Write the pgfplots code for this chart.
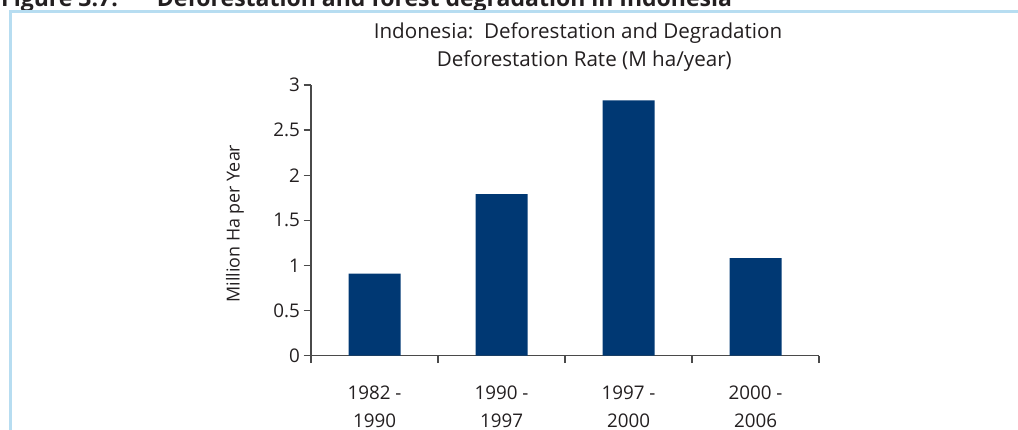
\documentclass[border=0pt]{standalone}
\usepackage{fontspec}
\setmainfont{Open Sans}
\usepackage{pgfplots}
\pgfplotsset{compat=1.18}
\definecolor{barNavy}{HTML}{003873}
\definecolor{frameBlue}{HTML}{B7DDF1}
\definecolor{txt}{HTML}{231F20}
\definecolor{axisGray}{HTML}{4A4A4A}

\begin{document}
\begin{tikzpicture}
\useasboundingbox (0pt,0pt) rectangle (1018pt,430pt);
% cropped page header and the blue box round the figure
\begin{scope}
  \clip (0pt,0pt) rectangle (1018pt,430pt);
  \node[anchor=base west, inner sep=0pt, text=txt,
        font=\fontsize{23}{28}\selectfont\bfseries] at (1pt,423pt)
        {Figure 3.7:\hspace{1.7em}Deforestation and forest degradation in Indonesia};
  \draw[frameBlue, line width=3pt] (10pt,-5pt) -- (10pt,418pt) -- (1030pt,418pt);
\end{scope}
\begin{axis}[
  at={(311pt,74.3pt)}, anchor=south west,
  scale only axis, width=508pt, height=270.7pt,
  xmin=-0.5, xmax=3.5, ymin=0, ymax=3,
  axis x line*=bottom, axis y line*=left,
  axis line style={draw=axisGray, line width=1.3pt, -},
  % labels sit on the major ticks (no length); the visible ticks are minor ones
  tick align=outside, major tick length=0pt, minor tick length=7.5pt,
  tick style={draw=axisGray, line width=1.3pt},
  xtick={0,1,2,3},
  xticklabels={{\begin{tabular}{@{}c@{}}1982 -\\[6pt]1990\end{tabular}},
               {\begin{tabular}{@{}c@{}}1990 -\\[6pt]1997\end{tabular}},
               {\begin{tabular}{@{}c@{}}1997 -\\[6pt]2000\end{tabular}},
               {\begin{tabular}{@{}c@{}}2000 -\\[6pt]2006\end{tabular}}},
  minor xtick={-0.5,0.5,1.5,2.5,3.5},
  xticklabel style={anchor=north, yshift=-28pt, inner sep=0pt},
  ytick={0,0.5,1,1.5,2,2.5,3},
  yticklabels={0,0.5,1,1.5,2,2.5,3},
  minor ytick={0,0.5,1,1.5,2,2.5,3},
  yticklabel style={xshift=-7.5pt},
  tick label style={font=\fontsize{18.8}{22}\selectfont, text=txt},
  ylabel={Million Ha per Year},
  ylabel style={at={(axis description cs:-0.1496,0.4876)}, anchor=center,
    font=\fontsize{17.9}{20}\selectfont, text=txt},
  clip=false,
]
  \addplot[ybar, bar width=52pt, fill=barNavy, draw=none]
    coordinates {(0,0.91) (1,1.79) (2,2.83) (3,1.08)};
  \node[anchor=base, font=\fontsize{20.6}{24}\selectfont, text=txt]
    at (axis description cs:0.5256,1.171) {Indonesia:\ \ Deforestation and Degradation};
  \node[anchor=base, font=\fontsize{20.6}{24}\selectfont, text=txt]
    at (axis description cs:0.538,1.0676) {Deforestation Rate (M ha/year)};
\end{axis}
\end{tikzpicture}
\end{document}
